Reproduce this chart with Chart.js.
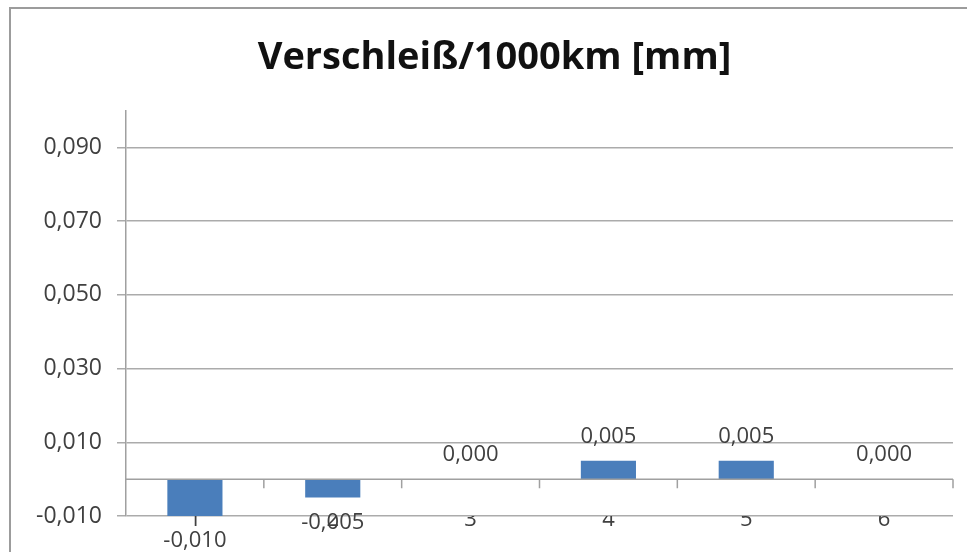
<!DOCTYPE html>
<html><head><meta charset="utf-8">
<script src="https://cdn.jsdelivr.net/npm/chart.js@4/dist/chart.umd.min.js"></script>
<style>html,body{margin:0;padding:0;background:#fff;} #wrap{width:967px;height:552px;position:relative;}</style>
</head><body><div id="wrap"><canvas id="c" width="967" height="552"></canvas></div>
<script>
const titleText = 'Verschleiß/1000km [mm]';
const categories = ['1', '2', '3', '4', '5', '6'];
const wearValues = [-0.010, -0.005, 0.000, 0.005, 0.005, 0.000];
const yTickValues = [-0.010, 0.010, 0.030, 0.050, 0.070, 0.090];
const yMin = -0.010;
const yMax = 0.100;

const fmt = v => Number(v).toFixed(3).replace('.', ',');
const FONT = "'Open Sans', 'DejaVu Sans', sans-serif";
const TEXT = '#404040';

const framePlugin = {
  id: 'frame',
  beforeDraw(chart) {
    const ctx = chart.ctx;
    ctx.save();
    ctx.fillStyle = '#fff';
    ctx.fillRect(0, 0, chart.width, chart.height);
    ctx.strokeStyle = '#9c9c9c';
    ctx.lineWidth = 2;
    ctx.beginPath();
    ctx.moveTo(10, chart.height + 5);
    ctx.lineTo(10, 8);
    ctx.lineTo(chart.width + 5, 8);
    ctx.stroke();
    ctx.restore();
  }
};

const zeroAxisPlugin = {
  id: 'zeroAxis',
  afterDatasetsDraw(chart) {
    const ctx = chart.ctx, x = chart.scales.x, y = chart.scales.y, area = chart.chartArea;
    const y0 = y.getPixelForValue(0);
    ctx.save();
    ctx.strokeStyle = '#a0a0a0';
    ctx.lineWidth = 1.5;
    ctx.beginPath();
    ctx.moveTo(area.left, y0);
    ctx.lineTo(area.right, y0);
    const n = categories.length;
    for (let i = 0; i < n; i++) {
      const bx = i < n - 1 ? (x.getPixelForValue(i) + x.getPixelForValue(i + 1)) / 2 : area.right;
      ctx.moveTo(bx, y0);
      ctx.lineTo(bx, y0 + 9);
    }
    ctx.stroke();
    // data labels
    const meta = chart.getDatasetMeta(0);
    ctx.fillStyle = TEXT;
    ctx.font = "22px " + FONT;
    ctx.textAlign = 'center';
    ctx.textBaseline = 'middle';
    meta.data.forEach((bar, i) => {
      const v = wearValues[i];
      const ly = v >= 0 ? bar.y - 24 : bar.y + 25;
      ctx.fillText(fmt(v), bar.x, ly);
    });
    ctx.restore();
  }
};

new Chart(document.getElementById('c'), {
  type: 'bar',
  data: {
    labels: categories,
    datasets: [{
      data: wearValues,
      backgroundColor: '#4a7ebb',
      borderWidth: 0,
      barPercentage: 0.4,
      categoryPercentage: 1.0
    }]
  },
  options: {
    responsive: false,
    animation: false,
    devicePixelRatio: 1,
    layout: { padding: { left: 36, right: 14, top: 0, bottom: 0 } },
    plugins: {
      legend: { display: false },
      tooltip: { enabled: false },
      title: {
        display: true,
        text: titleText,
        color: '#111',
        font: { family: FONT, size: 38, weight: 'bold' },
        padding: { top: 35, bottom: 30 }
      }
    },
    scales: {
      x: {
        grid: { display: false, drawTicks: false },
        border: { display: false },
        ticks: { color: TEXT, font: { family: FONT, size: 22 }, padding: -9 },
        afterFit: s => { s.height = 36; }
      },
      y: {
        min: yMin,
        max: yMax,
        afterBuildTicks: s => { s.ticks = yTickValues.map(v => ({ value: v })); },
        grid: { color: '#ababab', lineWidth: 1.5, tickLength: 9, drawTicks: true },
        border: { display: true, color: '#a0a0a0', width: 1.5 },
        ticks: { color: TEXT, font: { family: FONT, size: 23 }, padding: 15, callback: v => fmt(v) },
        afterFit: s => { s.width = 90; }
      }
    }
  },
  plugins: [framePlugin, zeroAxisPlugin]
});
</script>
</body></html>
